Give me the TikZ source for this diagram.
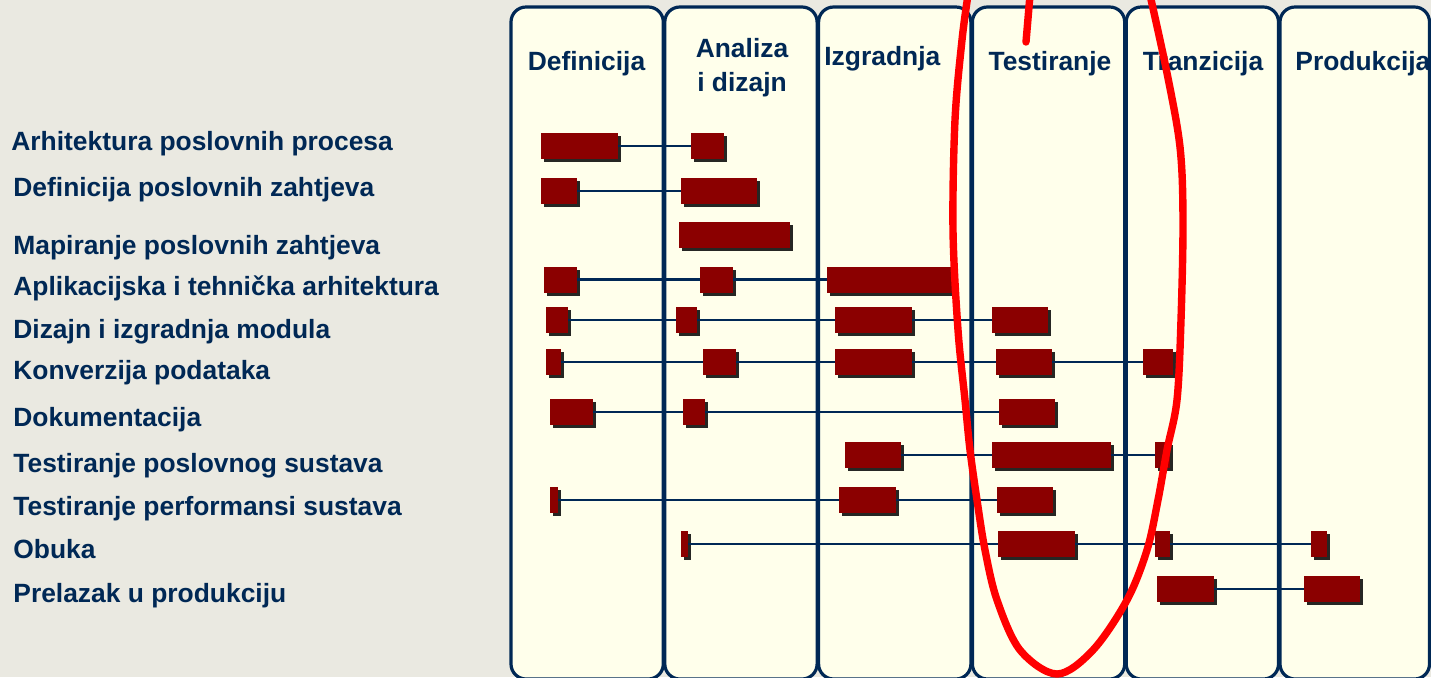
\documentclass[tikz,border=0pt]{standalone}
\usepackage{fontspec}
\setmainfont{Liberation Sans}
\usepackage{tikz}
\usetikzlibrary{shadows}
\definecolor{bg_grey}{RGB}{234, 233, 225}
\definecolor{phase_fill}{RGB}{255, 255, 235}
\definecolor{navy}{RGB}{0, 40, 85}
\definecolor{bar_red}{RGB}{139, 0, 0}
\tikzstyle{phase}=[draw=navy,fill=phase_fill,line width=1.6pt,rounded corners=7.5pt]
\tikzstyle{head}=[text=navy,inner sep=0pt,font=\fontsize{13.2}{17}\selectfont\bfseries]
\tikzstyle{task}=[head,anchor=base west]
\tikzstyle{bar}=[rectangle,fill=bar_red,inner sep=0pt,minimum height=13pt,
  drop shadow={shadow xshift=1.5pt,shadow yshift=-1.5pt,opacity=0.85,fill=black}]
\tikzstyle{link}=[draw=navy,line width=1.45pt]
\tikzstyle{pen}=[draw=red,line width=3.7pt,line cap=round,line join=round]
\tikzstyle{none}=[]

\begin{document}
\begin{tikzpicture}[x=0.5pt, y=-0.5pt]
            \useasboundingbox (0,0) rectangle (1431,677);
            \fill [bg_grey] (0,0) rectangle (1431,677);
            % faze
            \draw [style=phase] (511,7) rectangle (663.3,679);
            \draw [style=phase] (664.8,7) rectangle (817.1,679);
            \draw [style=phase] (818.6,7) rectangle (970.9,679);
            \draw [style=phase] (972.4,7) rectangle (1124.7,679);
            \draw [style=phase] (1126.2,7) rectangle (1278.5,679);
            \draw [style=phase] (1280,7) rectangle (1429.5,679);
            \node [style=head, anchor=base] (h1) at (586.5,70) {Definicija};
            \node [style=head, anchor=base, align=center] (h2) at (742,91) {Analiza\\ i dizajn};
            \node [style=head, anchor=base west] (h3) at (824,65) {Izgradnja};
            \node [style=head, anchor=base] (h4) at (1050,70) {Testiranje};
            \node [style=head, anchor=base] (h5) at (1203,70) {Tranzicija};
            \node [style=head, anchor=base west] (h6) at (1295,70) {Produkcija};
            % aktivnosti
            \node [style=task] (t1) at (11,150) {Arhitektura poslovnih procesa};
            \node [style=task] (t2) at (13,196) {Definicija poslovnih zahtjeva};
            \node [style=task] (t3) at (13,254) {Mapiranje poslovnih zahtjeva};
            \node [style=task] (t4) at (13,295) {Aplikacijska i tehnička arhitektura};
            \node [style=task] (t5) at (13,338) {Dizajn i izgradnja modula};
            \node [style=task] (t6) at (13,379) {Konverzija podataka};
            \node [style=task] (t7) at (13,426) {Dokumentacija};
            \node [style=task] (t8) at (13,472) {Testiranje poslovnog sustava};
            \node [style=task] (t9) at (13,515) {Testiranje performansi sustava};
            \node [style=task] (t10) at (13,558) {Obuka};
            \node [style=task] (t11) at (13,602) {Prelazak u produkciju};
            % trake
            \node [style=bar, minimum width=38.5pt] (1a) at (579.5,146) {};
            \node [style=bar, minimum width=16.5pt] (1b) at (707.5,146) {};
            \node [style=bar, minimum width=18pt] (2a) at (559,191) {};
            \node [style=bar, minimum width=38pt] (2b) at (719,191) {};
            \node [style=bar, minimum width=55.5pt] (3a) at (734.5,234.5) {};
            \node [style=bar, minimum width=16.5pt] (4a) at (560.5,279.5) {};
            \node [style=bar, minimum width=16.5pt] (4b) at (716.5,279.5) {};
            \node [style=bar, minimum width=62.5pt] (4c) at (889.5,279.5) {};
            \node [style=bar, minimum width=11pt] (5a) at (557,320) {};
            \node [style=bar, minimum width=10.5pt] (5b) at (686.5,320) {};
            \node [style=bar, minimum width=38.5pt] (5c) at (873.5,320) {};
            \node [style=bar, minimum width=28pt] (5d) at (1020,320) {};
            \node [style=bar, minimum width=7.5pt] (6a) at (553.5,362) {};
            \node [style=bar, minimum width=16.5pt] (6b) at (719.5,362) {};
            \node [style=bar, minimum width=38.5pt] (6c) at (873.5,362) {};
            \node [style=bar, minimum width=28pt] (6d) at (1024,362) {};
            \node [style=bar, minimum width=15pt] (6e) at (1158,362) {};
            \node [style=bar, minimum width=21.5pt] (7a) at (571.5,412) {};
            \node [style=bar, minimum width=11pt] (7b) at (694,412) {};
            \node [style=bar, minimum width=28pt] (7c) at (1027,412) {};
            \node [style=bar, minimum width=28pt] (8a) at (873,455) {};
            \node [style=bar, minimum width=59.5pt] (8b) at (1051.5,455) {};
            \node [style=bar, minimum width=7.5pt] (8c) at (1162.5,455) {};
            \node [style=bar, minimum width=4pt] (9a) at (554,500) {};
            \node [style=bar, minimum width=28.5pt] (9b) at (867.5,500) {};
            \node [style=bar, minimum width=28pt] (9c) at (1025,500) {};
            \node [style=bar, minimum width=3.5pt] (10a) at (684.5,544) {};
            \node [style=bar, minimum width=38.5pt] (10b) at (1036.5,544) {};
            \node [style=bar, minimum width=7.5pt] (10c) at (1162.5,544) {};
            \node [style=bar, minimum width=8pt] (10d) at (1319,544) {};
            \node [style=bar, minimum width=28.5pt] (11a) at (1185.5,589) {};
            \node [style=bar, minimum width=28pt] (11b) at (1332,589) {};
            % veze
            \draw [style=link] (1a) to (1b);
            \draw [style=link] (2a) to (2b);
            \draw [style=link] (4a) to (4b);
            \draw [style=link] (4b) to (4c);
            \draw [style=link] (5a) to (5b);
            \draw [style=link] (5b) to (5c);
            \draw [style=link] (5c) to (5d);
            \draw [style=link] (6a) to (6b);
            \draw [style=link] (6b) to (6c);
            \draw [style=link] (6c) to (6d);
            \draw [style=link] (6d) to (6e);
            \draw [style=link] (7a) to (7b);
            \draw [style=link] (7b) to (7c);
            \draw [style=link] (8a) to (8b);
            \draw [style=link] (8b) to (8c);
            \draw [style=link] (9a) to (9b);
            \draw [style=link] (9b) to (9c);
            \draw [style=link] (10a) to (10b);
            \draw [style=link] (10b) to (10c);
            \draw [style=link] (10c) to (10d);
            \draw [style=link] (11a) to (11b);
            % olovka
            \draw [style=pen] plot [smooth, tension=0.55] coordinates {(968,-5) (962,40) (955,120) (953,230) (958,330) (965,400) (970,450) (977,500) (985,550) (997,600) (1020,650) (1057,674) (1093,650) (1127,600) (1147,550) (1158,500) (1167,450) (1177,400) (1181,320) (1183,220) (1180,147) (1167,73) (1150,-5)};
            \draw [style=pen] (1030,-5) to (1026,42);
\end{tikzpicture}
\end{document}
